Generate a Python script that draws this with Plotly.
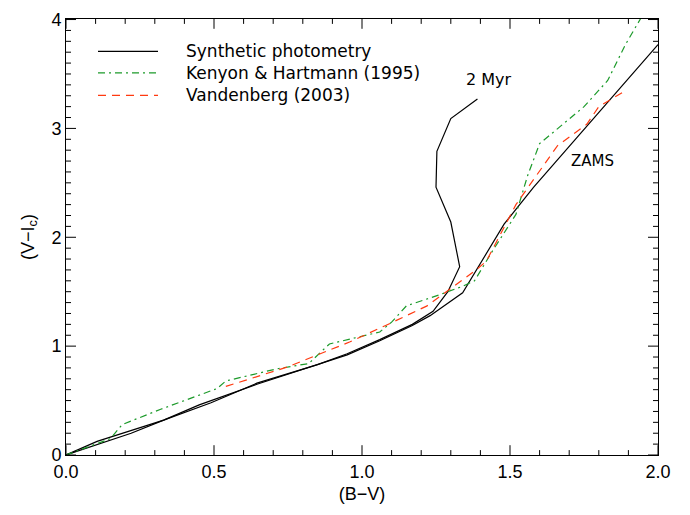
import plotly.graph_objects as go

# ZAMS (synthetic photometry)
zams_bv = [0.0, 0.22, 0.33, 0.45, 0.645, 0.85, 0.95, 1.06, 1.17, 1.23, 1.34, 1.48, 1.58, 2.0]
zams_vi = [0.0, 0.20, 0.32, 0.46, 0.65, 0.83, 0.92, 1.05, 1.19, 1.28, 1.49, 2.12, 2.46, 3.77]

# 2 Myr isochrone (synthetic photometry)
iso_bv = [0.0, 0.105, 0.33, 0.49, 0.645, 0.85, 0.95, 1.06, 1.17, 1.24, 1.29, 1.33, 1.30, 1.25, 1.253, 1.30, 1.39]
iso_vi = [0.0, 0.125, 0.32, 0.48, 0.66, 0.83, 0.93, 1.06, 1.20, 1.32, 1.50, 1.73, 2.14, 2.46, 2.79, 3.09, 3.27]

# Kenyon & Hartmann (1995)
kh_bv = [0.0, 0.15, 0.19, 0.32, 0.51, 0.54, 0.71, 0.82, 0.89, 1.06, 1.10, 1.15, 1.26, 1.34, 1.38, 1.44, 1.52, 1.56, 1.60, 1.75, 1.83, 1.89, 1.95]
kh_vi = [0.0, 0.15, 0.28, 0.42, 0.61, 0.68, 0.79, 0.84, 1.02, 1.13, 1.22, 1.37, 1.47, 1.55, 1.60, 1.87, 2.21, 2.57, 2.86, 3.20, 3.44, 3.77, 4.05]

# Vandenberg (2003)
vb_bv = [0.54, 0.75, 0.85, 0.96, 1.08, 1.22, 1.39, 1.42, 1.52, 1.66, 1.76, 1.80, 1.88]
vb_vi = [0.63, 0.81, 0.92, 1.04, 1.19, 1.37, 1.71, 1.78, 2.30, 2.84, 3.04, 3.20, 3.33]

legend_labels = ["Synthetic photometry", "Kenyon & Hartmann (1995)", "Vandenberg (2003)"]

# tick positions and labels
x_major = [0.0, 0.5, 1.0, 1.5, 2.0]
x_major_text = ["0.0", "0.5", "1.0", "1.5", "2.0"]
x_minor = [i / 10 for i in range(21)]
y_major = [0, 1, 2, 3, 4]
y_major_text = ["0", "1", "2", "3", "4"]
y_minor = [i / 10 for i in range(41)]

BLACK = "black"
GREEN = "#1c9a2a"
RED = "#ff3a10"
FONT = "Liberation Sans"
TFONT = "DejaVu Sans"

X_RANGE = [0, 2.0]
Y_RANGE = [0, 4.005]

fig = go.Figure()
fig.add_trace(go.Scatter(x=zams_bv, y=zams_vi, mode="lines",
                         line=dict(color=BLACK, width=1.2), showlegend=False))
fig.add_trace(go.Scatter(x=iso_bv, y=iso_vi, mode="lines",
                         line=dict(color=BLACK, width=1.2), showlegend=False))
fig.add_trace(go.Scatter(x=kh_bv, y=kh_vi, mode="lines",
                         line=dict(color=GREEN, width=1.2, dash="7px,4px,2px,4px"), showlegend=False))
fig.add_trace(go.Scatter(x=vb_bv, y=vb_vi, mode="lines",
                         line=dict(color=RED, width=1.2, dash="8px,6px"), showlegend=False))

W, H = 690, 515
L, R, T, B = 66, 32, 10, 60
pw, ph = W - L - R, H - T - B
def px2paper(px, py):
    return (px - L) / pw, (H - B - py) / ph

# tick marks on all four sides, positioned through the axis scales
tick_line = dict(color=BLACK, width=1)
for v in x_minor:
    ln = 10 if any(abs(v - m) < 1e-9 for m in x_major) else 5
    fig.add_shape(type="line", xref="x", yref="paper", x0=v, x1=v, y0=0, y1=ln / ph, line=tick_line)
    fig.add_shape(type="line", xref="x", yref="paper", x0=v, x1=v, y0=1, y1=1 - ln / ph, line=tick_line)
for v in y_minor:
    ln = 10 if any(abs(v - m) < 1e-9 for m in y_major) else 5
    fig.add_shape(type="line", xref="paper", yref="y", x0=0, x1=ln / pw, y0=v, y1=v, line=tick_line)
    fig.add_shape(type="line", xref="paper", yref="y", x0=1, x1=1 - ln / pw, y0=v, y1=v, line=tick_line)

# manual legend (paper coords)
styles = [dict(color=BLACK, width=1.2),
          dict(color=GREEN, width=1.2, dash="7px,4px,2px,4px"),
          dict(color=RED, width=1.2, dash="8px,6px")]
ys = [43, 65, 88]
for lab, st, yy in zip(legend_labels, styles, ys):
    x0, y0 = px2paper(98, yy)
    x1, _ = px2paper(158, yy)
    fig.add_shape(type="line", xref="paper", yref="paper", x0=x0, x1=x1, y0=y0, y1=y0,
                  line=st)
    tx, ty = px2paper(184, yy)
    fig.add_annotation(xref="paper", yref="paper", x=tx, y=ty, text=lab,
                       showarrow=False, xanchor="left", yanchor="middle",
                       font=dict(family=TFONT, size=17, color=BLACK))

fig.add_annotation(x=1.43, y=3.45, text="2 Myr", showarrow=False,
                   font=dict(family=TFONT, size=16, color=BLACK))
fig.add_annotation(x=1.78, y=2.70, text="ZAMS", showarrow=False,
                   font=dict(family=TFONT, size=15, color=BLACK))

fig.update_xaxes(range=X_RANGE, tickmode="array", tickvals=x_major, ticktext=x_major_text,
                 ticks="", showline=True, linecolor=BLACK, linewidth=1, mirror=True,
                 showgrid=False, zeroline=False,
                 tickfont=dict(family=FONT, size=18, color=BLACK),
                 title=dict(text="(B\u2212V)", font=dict(family=FONT, size=18, color=BLACK), standoff=6))
fig.update_yaxes(range=Y_RANGE, tickmode="array", tickvals=y_major, ticktext=y_major_text,
                 ticks="", showline=True, linecolor=BLACK, linewidth=1, mirror=True,
                 showgrid=False, zeroline=False,
                 tickfont=dict(family=FONT, size=18, color=BLACK),
                 title=dict(text="(V\u2212I<sub>c</sub>)", font=dict(family=FONT, size=18, color=BLACK), standoff=12))

fig.update_layout(width=W, height=H, margin=dict(l=L, r=R, t=T, b=B),
                  paper_bgcolor="white", plot_bgcolor="white", showlegend=False)

fig.write_html("out.html")
